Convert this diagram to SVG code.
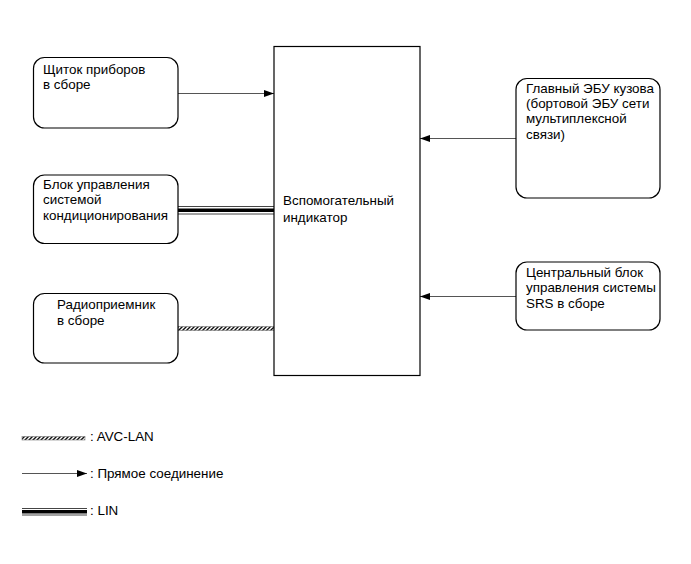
<svg xmlns="http://www.w3.org/2000/svg" width="691" height="564" viewBox="0 0 691 564">
<style>
.box{fill:#fff;stroke:#000;stroke-width:1.2}
.t{font-family:"Liberation Sans",Arial,sans-serif;font-size:13.4px;fill:#000}
.thin{stroke:#555;stroke-width:1;fill:none}
.lin-thin{stroke:#444;stroke-width:1;fill:none}
.lin-thick{stroke:#000;stroke-width:3.5;fill:none}
</style>
<defs>
<marker id="arr" markerWidth="10" markerHeight="8" refX="10" refY="4" orient="auto" markerUnits="userSpaceOnUse">
<path d="M0,0.5 L10,4 L0,7.5 Z" fill="#000"/>
</marker>
<pattern id="hatch" patternUnits="userSpaceOnUse" width="4" height="4" patternTransform="skewX(-45)">
<rect width="4" height="4" fill="#fff"/>
<rect width="2" height="4" fill="#111"/>
</pattern>
</defs>
<g id="connectors">
<line class="thin" x1="178" y1="93.5" x2="274" y2="93.5" marker-end="url(#arr)"/>
<line class="thin" x1="516" y1="138.5" x2="420" y2="138.5" marker-end="url(#arr)"/>
<line class="thin" x1="516" y1="296.5" x2="420" y2="296.5" marker-end="url(#arr)"/>
<g id="lin-conn">
<line class="lin-thin" x1="178" y1="206.5" x2="274" y2="206.5"/>
<line class="lin-thick" x1="178" y1="210.3" x2="274" y2="210.3"/>
<line class="lin-thin" x1="178" y1="214" x2="274" y2="214"/>
</g>
<rect x="178" y="326.5" width="96" height="4" fill="url(#hatch)" stroke="#777" stroke-width="0.6"/>
</g>
<g id="main">
<rect class="box" x="274" y="46.5" width="146" height="329"/>
<text class="t" x="283" y="205">Вспомогательный</text>
<text class="t" x="283" y="222">индикатор</text>
</g>
<g id="node-combimeter">
<rect class="box" x="33.5" y="57.5" width="144.5" height="70.5" rx="11"/>
<text class="t" x="43" y="74">Щиток приборов</text>
<text class="t" x="43" y="89">в сборе</text>
</g>
<g id="node-ac">
<rect class="box" x="33.5" y="175" width="144.5" height="68.5" rx="11"/>
<text class="t" x="43" y="189">Блок управления</text>
<text class="t" x="43" y="204">системой</text>
<text class="t" x="43" y="220">кондиционирования</text>
</g>
<g id="node-radio">
<rect class="box" x="33.5" y="293.5" width="144.5" height="69.5" rx="11"/>
<text class="t" x="57" y="309">Радиоприемник</text>
<text class="t" x="57" y="325">в сборе</text>
</g>
<g id="node-body-ecu">
<rect class="box" x="516" y="78.5" width="144" height="119.5" rx="11"/>
<text class="t" x="526" y="93">Главный ЭБУ кузова</text>
<text class="t" x="526" y="108">(бортовой ЭБУ сети</text>
<text class="t" x="526" y="123">мультиплексной</text>
<text class="t" x="526" y="139">связи)</text>
</g>
<g id="node-srs">
<rect class="box" x="516" y="262" width="144" height="68" rx="11"/>
<text class="t" x="526" y="277">Центральный блок</text>
<text class="t" x="526" y="292">управления системы</text>
<text class="t" x="526" y="308">SRS в сборе</text>
</g>
<g id="legend">
<rect x="22" y="436.5" width="63" height="3.5" fill="url(#hatch)" stroke="#777" stroke-width="0.6"/>
<text class="t" x="90" y="441">: AVC-LAN</text>
<line class="thin" x1="22" y1="473.5" x2="87" y2="473.5" marker-end="url(#arr)"/>
<text class="t" x="90" y="478">: Прямое соединение</text>
<line class="lin-thin" x1="22" y1="508.5" x2="87" y2="508.5"/>
<line class="lin-thick" x1="22" y1="511.8" x2="87" y2="511.8"/>
<line class="lin-thin" x1="22" y1="515" x2="87" y2="515"/>
<text class="t" x="90" y="515">: LIN</text>
</g>
</svg>
